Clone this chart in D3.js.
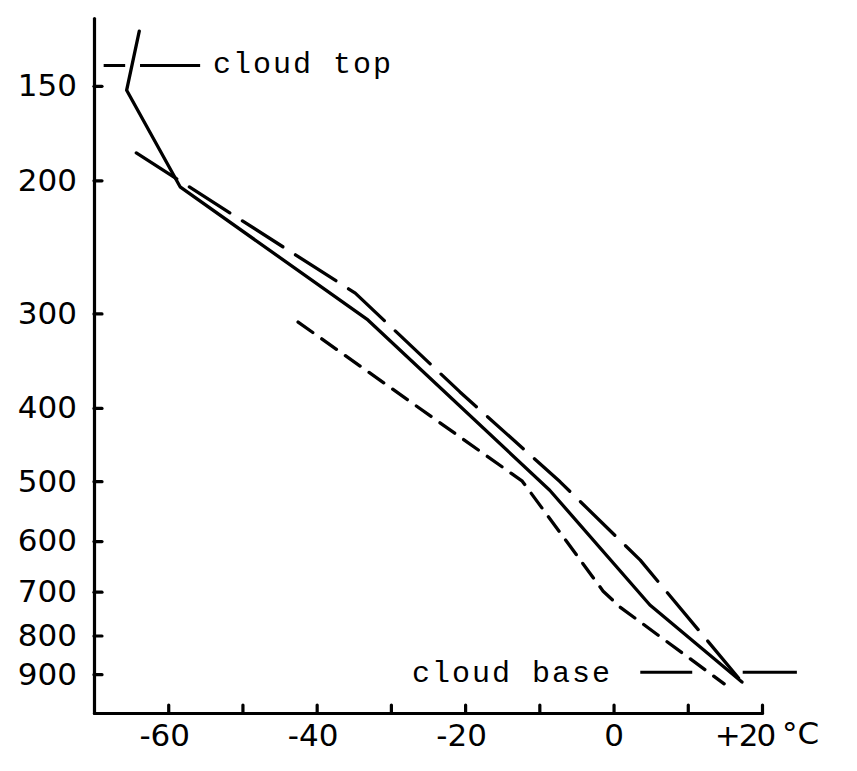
<!DOCTYPE html>
<html lang="en">
  <head>
    <meta charset="UTF-8">
    <script src="https://d3js.org/d3.v7.min.js"></script>
    <title>Sounding</title>
    <style>
      body { margin: 0; background: #fff; }
      .axis path, .axis line { stroke: #000; stroke-width: 3.2; stroke-linecap: round; }
      .axis text { font-family: "DejaVu Sans", sans-serif; font-size: 31px; fill: #000; }
      .note { font-family: "Liberation Mono", monospace; font-size: 30px; letter-spacing: 2px; fill: #000; }
    </style>
  </head>
  <body>
    <div id="chart"></div>
    <script>
      // axis ticks
      const pressureTicks = [150, 200, 300, 400, 500, 600, 700, 800, 900];
      const tempTicks = [-60, -50, -40, -30, -20, -10, 0, 10, 20];
      const tempLabels = [-60, -40, -20, 0, 20];

      // environment curve (solid)
      const soundingT = [-63.9, -65.6, -58.4, -33.1, -8.6, 4.9, 17.3];
      const soundingP = [127, 152, 204, 306, 514, 729, 922];

      // long dashes
      const adiabatT = [-64.3, -34.8, -20.7, -7.2, 3.6, 17.3];
      const adiabatP = [184, 282, 381, 501, 636, 922];

      // short dashes
      const dewT = [-42.5, -12.3, -1.4, 0.9, 14.9];
      const dewP = [308, 500, 699, 734, 927];

      const cloudTopP = 141;
      const cloudBaseP = 895;

      const width = 857;
      const height = 771;

      const svg = d3.select("#chart")
        .append("svg")
        .attr("width", width)
        .attr("height", height);

      const x = d3.scaleLinear().domain([-70, 20]).range([94, 762]);
      const y = d3.scaleLog().domain([122, 1013]).range([18, 713]);

      // y axis, ticks pointing inwards
      svg.append("g")
        .attr("class", "axis")
        .attr("transform", `translate(${x(-70)},0)`)
        .call(d3.axisLeft(y).tickValues(pressureTicks).tickFormat(d3.format("d"))
          .tickSize(-8).tickSizeOuter(0).tickPadding(17));

      // x axis
      const xAxis = svg.append("g")
        .attr("class", "axis")
        .attr("transform", `translate(0,${y.range()[1]})`)
        .call(d3.axisBottom(x).tickValues(tempTicks)
          .tickFormat(d => tempLabels.includes(d) ? (d > 0 ? "+" + d : String(d)) : "")
          .tickSize(-8).tickSizeOuter(0).tickPadding(11));

      // the +20 label sits a bit left of its tick, clear of the unit
      xAxis.selectAll(".tick text")
        .attr("dx", d => d === 20 ? -18 : (d < 0 ? -4 : 0))
        .attr("letter-spacing", d => d === 20 ? "-2px" : null);

      svg.append("text")
        .attr("x", 782)
        .attr("y", 744)
        .attr("font-family", "DejaVu Sans, sans-serif")
        .attr("font-size", 31)
        .text("°C");

      const line = d3.line().x(d => x(d[0])).y(d => y(d[1]));

      const curves = [
        { t: soundingT, p: soundingP, dash: null },
        { t: adiabatT, p: adiabatP, dash: "48,15" },
        { t: dewT, p: dewP, dash: "18,11" },
      ];

      curves.forEach(c => {
        svg.append("path")
          .attr("d", line(d3.zip(c.t, c.p)))
          .attr("fill", "none")
          .attr("stroke", "#000")
          .attr("stroke-width", 3.3)
          .attr("stroke-linecap", "round")
          .attr("stroke-linejoin", "round")
          .attr("stroke-dasharray", c.dash);
      });

      // cloud top / cloud base markers, broken where the curves pass
      const marks = [
        [[-68.7, -65.8], [-63.8, -55.7], cloudTopP],
        [[3.6, 10.6], [17.4, 24.7], cloudBaseP],
      ];
      marks.forEach(([a, b, p]) => {
        [a, b].forEach(seg => {
          svg.append("line")
            .attr("x1", x(seg[0])).attr("x2", x(seg[1]))
            .attr("y1", y(p)).attr("y2", y(p))
            .attr("stroke", "#000")
            .attr("stroke-width", 3);
        });
      });

      svg.append("text").attr("class", "note")
        .attr("x", 213).attr("y", y(cloudTopP) + 7)
        .text("cloud top");

      svg.append("text").attr("class", "note")
        .attr("x", 412).attr("y", y(cloudBaseP) + 10)
        .text("cloud base");
    </script>
  </body>
</html>
